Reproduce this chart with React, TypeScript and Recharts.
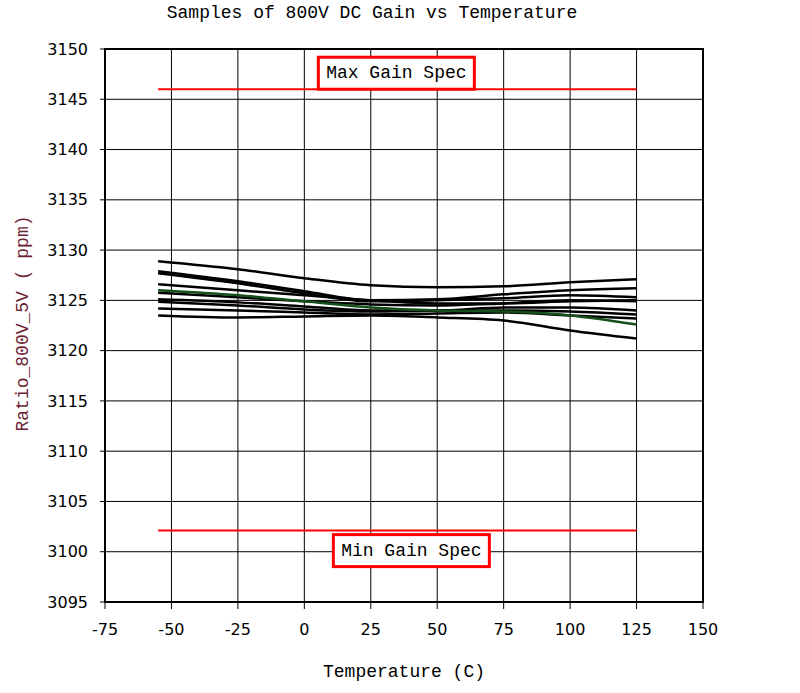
import { CartesianGrid, Line, LineChart, ReferenceArea, ReferenceLine, XAxis, YAxis } from "recharts";

const TEMPS = [-55, -25, 0, 25, 50, 75, 100, 125];
const X_TICKS = [-75, -50, -25, 0, 25, 50, 75, 100, 125, 150];
const Y_TICKS = [3095, 3100, 3105, 3110, 3115, 3120, 3125, 3130, 3135, 3140, 3145, 3150];

// one row per sample unit, gain in ppm at each temperature
const SAMPLE_A = [3128.9, 3128.1, 3127.2, 3126.5, 3126.3, 3126.4, 3126.8, 3127.1];
const SAMPLE_B = [3127.9, 3126.9, 3125.9, 3125.0, 3125.1, 3125.6, 3126.0, 3126.2];
const SAMPLE_C = [3127.7, 3126.7, 3125.7, 3124.9, 3125.0, 3125.2, 3125.5, 3125.3];
const SAMPLE_D = [3126.6, 3126.0, 3125.5, 3125.0, 3124.7, 3124.7, 3124.9, 3125.0];
const SAMPLE_E = [3125.75, 3125.3, 3124.9, 3124.6, 3124.5, 3124.7, 3125.0, 3124.9];
const SAMPLE_F = [3125.1, 3124.8, 3124.4, 3124.0, 3124.0, 3124.3, 3124.3, 3124.0];
const SAMPLE_G = [3124.85, 3124.5, 3124.1, 3123.9, 3124.0, 3124.0, 3123.9, 3123.6];
const SAMPLE_H = [3124.2, 3124.0, 3123.8, 3123.6, 3123.7, 3123.8, 3123.5, 3123.2];
const SAMPLE_I = [3123.5, 3123.3, 3123.4, 3123.5, 3123.3, 3123.0, 3122.0, 3121.2];
const SAMPLE_GREEN = [3126.0, 3125.5, 3124.9, 3124.3, 3124.0, 3123.9, 3123.5, 3122.6];

const SAMPLES = [
  { name: "A", values: SAMPLE_A, color: "#000" },
  { name: "B", values: SAMPLE_B, color: "#000" },
  { name: "C", values: SAMPLE_C, color: "#000" },
  { name: "D", values: SAMPLE_D, color: "#000" },
  { name: "E", values: SAMPLE_E, color: "#000" },
  { name: "F", values: SAMPLE_F, color: "#000" },
  { name: "G", values: SAMPLE_G, color: "#000" },
  { name: "H", values: SAMPLE_H, color: "#000" },
  { name: "I", values: SAMPLE_I, color: "#000" },
  { name: "Green", values: SAMPLE_GREEN, color: "#14501a" },
];

const MAX_SPEC = 3146;
const MIN_SPEC = 3102.1;
const SPEC_FROM = -55;
const SPEC_TO = 125;

const MONO = '"Liberation Mono", "Courier New", monospace';
const TICK_FONT = '"DejaVu Sans", Verdana, sans-serif';

function SpecBox({ viewBox, text, above }: any) {
  const cx = viewBox.x + viewBox.width / 2 + (above ? -1 : 14);
  const top = above ? viewBox.y - 32 : viewBox.y + 4;
  return (
    <g>
      <rect x={cx - 78} y={top} width={156} height={32} fill="#fff" stroke="#f00" strokeWidth={3} />
      <text x={cx} y={top + 21} textAnchor="middle" fontFamily={MONO} fontSize={18} fill="#000">
        {text}
      </text>
    </g>
  );
}

export default function App() {
  return (
    <div style={{ position: "absolute", left: 0, top: 0, width: 800, height: 693, background: "#fff" }}>
      <div
        style={{
          position: "absolute",
          left: 0,
          top: 3,
          width: 744,
          textAlign: "center",
          fontFamily: MONO,
          fontSize: 18,
          lineHeight: "20px",
          color: "#000",
        }}
      >
        Samples of 800V DC Gain vs Temperature
      </div>
      <LineChart width={800} height={693} margin={{ top: 49, right: 97, bottom: 61, left: 0 }}>
        <CartesianGrid stroke="#000" strokeWidth={1} />
        <XAxis
          type="number"
          dataKey="t"
          domain={[-75, 150]}
          ticks={X_TICKS}
          height={30}
          tickSize={7}
          tickMargin={15}
          axisLine={{ stroke: "#000", strokeWidth: 2 }}
          tickLine={{ stroke: "#000" }}
          tick={{ fill: "#000", fontSize: 16, fontFamily: TICK_FONT }}
          allowDuplicatedCategory={false}
          label={({ viewBox }: any) => (
            <text
              x={viewBox.x + viewBox.width / 2}
              y={677}
              textAnchor="middle"
              fontFamily={MONO}
              fontSize={18}
              fill="#000"
            >
              Temperature (C)
            </text>
          )}
        />
        <YAxis
          type="number"
          domain={[3095, 3150]}
          ticks={Y_TICKS}
          width={105}
          tickSize={5}
          tickMargin={12}
          axisLine={{ stroke: "#000", strokeWidth: 2 }}
          tickLine={{ stroke: "#000" }}
          tick={{ fill: "#000", fontSize: 16, fontFamily: TICK_FONT }}
          label={({ viewBox }: any) => {
            const cy = viewBox.y + viewBox.height / 2 - 2;
            return (
              <text
                x={22}
                y={cy}
                dy={6}
                transform={`rotate(-90, 22, ${cy})`}
                textAnchor="middle"
                fontFamily={MONO}
                fontSize={18}
                fill="#6b2233"
              >
                Ratio_800V_5V ( ppm)
              </text>
            );
          }}
        />
        <ReferenceArea x1={-75} x2={150} y1={3095} y2={3150} fill="none" stroke="#000" strokeWidth={2} />
        {SAMPLES.map((s) => (
          <Line
            key={s.name}
            data={TEMPS.map((t, i) => ({ t, v: s.values[i] }))}
            dataKey="v"
            type="monotone"
            stroke={s.color}
            strokeWidth={2.5}
            dot={false}
            isAnimationActive={false}
          />
        ))}
        <ReferenceLine
          segment={[
            { x: SPEC_FROM, y: MAX_SPEC },
            { x: SPEC_TO, y: MAX_SPEC },
          ]}
          stroke="#f00"
          strokeWidth={2}
          label={(p: any) => <SpecBox viewBox={p.viewBox} text="Max Gain Spec" above />}
        />
        <ReferenceLine
          segment={[
            { x: SPEC_FROM, y: MIN_SPEC },
            { x: SPEC_TO, y: MIN_SPEC },
          ]}
          stroke="#f00"
          strokeWidth={2}
          label={(p: any) => <SpecBox viewBox={p.viewBox} text="Min Gain Spec" />}
        />
      </LineChart>
    </div>
  );
}
